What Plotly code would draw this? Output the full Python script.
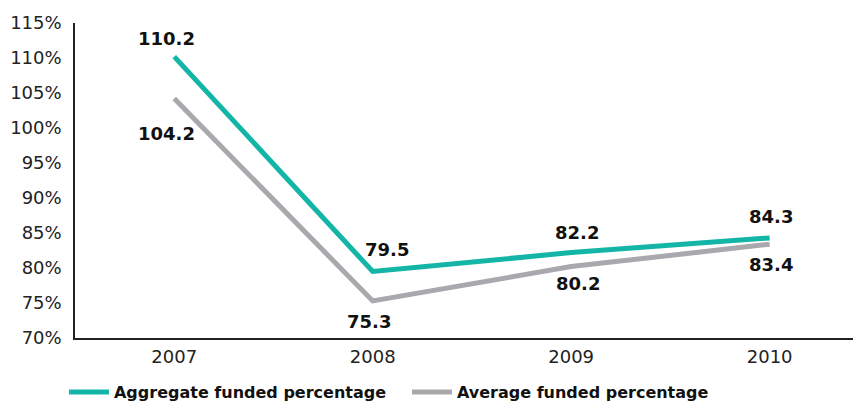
import plotly.graph_objects as go

years = ["2007", "2008", "2009", "2010"]
aggregate = [110.2, 79.5, 82.2, 84.3]
average = [104.2, 75.3, 80.2, 83.4]
y_ticks = [70, 75, 80, 85, 90, 95, 100, 105, 110, 115]
y_tick_labels = [f"{v}%" for v in y_ticks]

teal = "#13b5a6"
grey = "#a9a9ad"
font_family = "DejaVu Sans, Liberation Sans, sans-serif"

# per-point label offsets (pixels)
agg_shift = [(-8, 18), (14, 22), (6, 20), (1, 21)]
avg_shift = [(-8, -35), (-4, -21), (7, -17), (1, -20)]

fig = go.Figure()
fig.add_trace(go.Scatter(x=years, y=aggregate, mode="lines",
                         name="<b>Aggregate funded percentage</b>",
                         line=dict(color=teal, width=5)))
fig.add_trace(go.Scatter(x=years, y=average, mode="lines",
                         name="<b>Average funded percentage</b>",
                         line=dict(color=grey, width=5)))

annotations = []
for i, v in enumerate(aggregate):
    annotations.append(dict(x=i, y=v, xref="x", yref="y", text=f"<b>{v:.1f}</b>",
                            showarrow=False, xshift=agg_shift[i][0], yshift=agg_shift[i][1],
                            font=dict(size=18, color="#111111", family=font_family)))
for i, v in enumerate(average):
    annotations.append(dict(x=i, y=v, xref="x", yref="y", text=f"<b>{v:.1f}</b>",
                            showarrow=False, xshift=avg_shift[i][0], yshift=avg_shift[i][1],
                            font=dict(size=18, color="#111111", family=font_family)))

fig.update_layout(
    width=853, height=403,
    margin=dict(l=75, r=0, t=23, b=65, autoexpand=False),
    paper_bgcolor="white", plot_bgcolor="white",
    font=dict(family=font_family, size=17, color="#222222"),
    annotations=annotations,
    showlegend=True,
    legend=dict(orientation="h", xref="container", x=0.075, yref="container", y=0.027,
                yanchor="middle", xanchor="left",
                font=dict(size=16, color="#111111", family=font_family),
                itemwidth=40, traceorder="normal",
                entrywidth=288, entrywidthmode="pixels"),
    xaxis=dict(type="category", range=[-0.5, 3.42], showgrid=False, showline=True,
               linecolor="#222222", linewidth=1.5, ticks="", zeroline=False,
               tickfont=dict(size=18), ticklabelstandoff=2),
    yaxis=dict(range=[70, 115], tickvals=y_ticks, ticktext=y_tick_labels, showgrid=False,
               showline=True, linecolor="#222222", linewidth=1.5, ticks="", zeroline=False,
               tickfont=dict(size=18), ticklabelstandoff=8),
)

fig.write_html("out.html")
